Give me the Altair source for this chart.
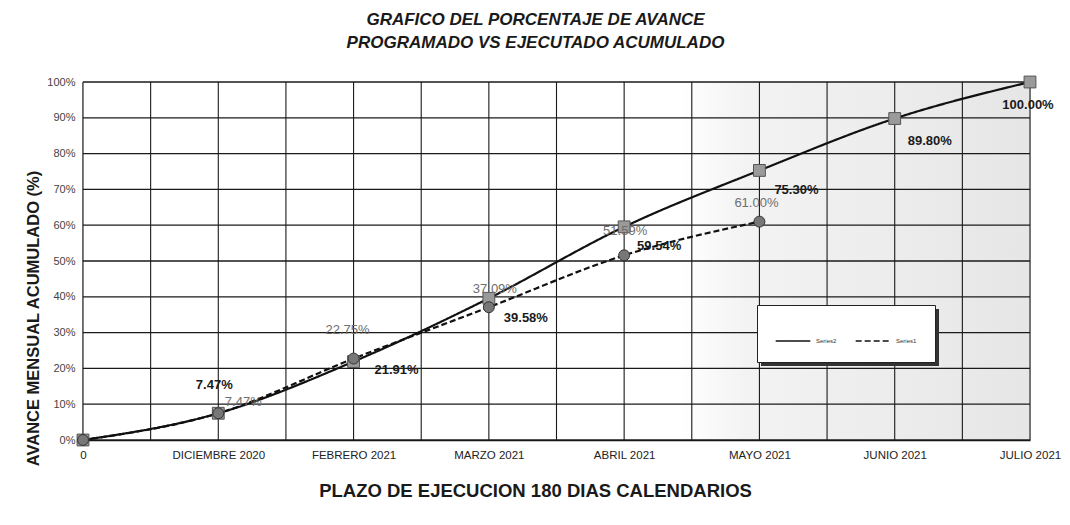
import altair as alt
import pandas as pd

# ---------------- data ----------------
months = ["0", "DICIEMBRE 2020", "FEBRERO 2021", "MARZO 2021", "ABRIL 2021",
          "MAYO 2021", "JUNIO 2021", "JULIO 2021"]
programado = [0.0, 7.47, 21.91, 39.58, 59.54, 75.30, 89.80, 100.00]   # solid, squares
ejecutado = [0.0, 7.47, 22.75, 37.09, 51.59, 61.00]                   # dashed, circles
serie_prog = "Series2"
serie_ejec = "Series1"
y_ticks = [0.0, 0.1, 0.2, 0.3, 0.4, 0.5, 0.6, 0.7, 0.8, 0.9, 1.0]
x_grid = [0, 0.5, 1, 1.5, 2, 2.5, 3, 3.5, 4, 4.5, 5, 5.5, 6, 6.5, 7]

rows = []
for i, v in enumerate(programado):
    rows.append({"idx": i, "pct": v / 100, "serie": serie_prog, "label": f"{v:.2f}%"})
for i, v in enumerate(ejecutado):
    rows.append({"idx": i, "pct": v / 100, "serie": serie_ejec, "label": f"{v:.2f}%"})
df = pd.DataFrame(rows)

# ---------------- layout / style ----------------
W, H = 947, 358
NARROW = "Liberation Sans Narrow, Arial Narrow, Liberation Sans, Arial"
ARIAL = "Liberation Sans, Arial"
GRID = "#1a1a1a"

month_js = "[" + ",".join(f"'{m}'" for m in months) + "]"

x_scale = alt.Scale(domain=[0, len(months) - 1], nice=False, zero=False)
y_scale = alt.Scale(domain=[0, 1], nice=False)

x_axis = alt.Axis(values=list(range(len(months))),
                  labelExpr=f"{month_js}[datum.value]",
                  labelOverlap=False, labelFlush=False,
                  labelFont=NARROW, labelFontSize=11.5,
                  labelColor="#222", labelPadding=9, ticks=False,
                  grid=False, domainColor="#111", domainWidth=1.5,
                  title="PLAZO DE EJECUCION 180 DIAS CALENDARIOS",
                  titleFont=ARIAL, titleFontSize=18.5, titleFontWeight="bold",
                  titleColor="#1a1a1a", titlePadding=21, titleX=452,
                  titleAnchor="start", titleAlign="center")
y_axis = alt.Axis(values=y_ticks, format=".0%",
                  labelOverlap=False, labelFlush=False,
                  labelFont=NARROW, labelFontSize=11, labelColor="#444",
                  labelPadding=8, ticks=False, grid=False,
                  domainColor="#111", domainWidth=1.5,
                  title="AVANCE MENSUAL ACUMULADO (%)",
                  titleFont=ARIAL, titleFontSize=16.5, titleFontWeight="bold",
                  titleColor="#1a1a1a", titleX=-50, titleY=236,
                  titleAlign="center", titleBaseline="middle")

def X(field):
    return alt.X(field, scale=x_scale, axis=x_axis)

def Y(field):
    return alt.Y(field, scale=y_scale, axis=y_axis)

base = alt.Chart(df)

shade = alt.Chart(pd.DataFrame({"a": [0]})).mark_rect(
    fill=alt.LinearGradient(gradient="linear", x1=0, x2=1, y1=0, y2=0,
                            stops=[alt.GradientStop(color="#ffffff", offset=0),
                                   alt.GradientStop(color="#ffffff", offset=0.63),
                                   alt.GradientStop(color="#f3f3f3", offset=0.7),
                                   alt.GradientStop(color="#e6e6e6", offset=1)])
).encode(x=alt.value(0), x2=alt.value(W), y=alt.value(0), y2=alt.value(H))

hgrid = alt.Chart(pd.DataFrame({"v": y_ticks})).mark_rule(
    color=GRID, strokeWidth=1.3).encode(y=Y("v:Q"))
vgrid = alt.Chart(pd.DataFrame({"v": x_grid})).mark_rule(
    color=GRID, strokeWidth=1.1).encode(x=X("v:Q"))

# shadow behind the legend box (decoration)
legend_shadow = alt.Chart(pd.DataFrame({"a": [0]})).mark_rect(fill="#333").encode(
    x=alt.value(678), x2=alt.value(856), y=alt.value(227), y2=alt.value(284))

legend_kw = dict(orient="none", legendX=674, legendY=223, direction="horizontal",
                 title=None, fillColor="white", strokeColor="#222", padding=18,
                 labelFontSize=6, labelFont=ARIAL, labelColor="#333",
                 symbolType="stroke", symbolSize=1200, symbolStrokeWidth=1.3,
                 columnPadding=16, labelOffset=5)

lines = base.mark_line(interpolate="monotone", strokeWidth=2.2).encode(
    x=X("idx:Q"), y=Y("pct:Q"),
    color=alt.Color("serie:N",
                    scale=alt.Scale(domain=[serie_prog, serie_ejec], range=["#111", "#111"]),
                    legend=alt.Legend(**legend_kw)),
    strokeDash=alt.StrokeDash("serie:N",
                              scale=alt.Scale(domain=[serie_prog, serie_ejec],
                                              range=[[1, 0], [6, 3]]),
                              legend=alt.Legend(**legend_kw)),
)

squares = base.transform_filter(alt.datum.serie == serie_prog).mark_square(
    size=140, fill="#9a9a9a", stroke="#555", strokeWidth=1, opacity=1
).encode(x=X("idx:Q"), y=Y("pct:Q"))

circles = base.transform_filter(alt.datum.serie == serie_ejec).mark_point(
    shape="circle", filled=True, size=120, fill="#777", stroke="#333",
    strokeWidth=1, opacity=1
).encode(x=X("idx:Q"), y=Y("pct:Q"))

# label offsets (styling) for each point label
prog_offsets = {1: (-4, -28), 2: (43, 8), 3: (37, 20), 4: (35, 19),
                5: (37, 20), 6: (35, 22), 7: (-2, 23)}
ejec_offsets = {1: (25, -11), 2: (-6, -29), 3: (6, -18), 4: (1, -24), 5: (-3, -19)}

label_layers = []
for i, (dx, dy) in prog_offsets.items():
    label_layers.append(
        base.transform_filter((alt.datum.serie == serie_prog) & (alt.datum.idx == i))
        .mark_text(dx=dx, dy=dy, font=ARIAL, fontSize=13, fontWeight="bold", color="#1a1a1a")
        .encode(x=X("idx:Q"), y=Y("pct:Q"), text="label:N"))
for i, (dx, dy) in ejec_offsets.items():
    label_layers.append(
        base.transform_filter((alt.datum.serie == serie_ejec) & (alt.datum.idx == i))
        .mark_text(dx=dx, dy=dy, font=ARIAL, fontSize=13, color="#6e6e6e")
        .encode(x=X("idx:Q"), y=Y("pct:Q"), text="label:N"))

chart = alt.layer(shade, hgrid, vgrid, legend_shadow, lines, squares, circles,
                  *label_layers).properties(
    width=W, height=H,
    autosize=alt.AutoSizeParams(type="none"),
    padding={"left": 75, "top": 74, "right": 32, "bottom": 77},
    title=alt.Title(["GRAFICO DEL PORCENTAJE DE AVANCE",
                     "PROGRAMADO VS EJECUTADO ACUMULADO"],
                    font=NARROW, fontSize=17, fontStyle="italic", fontWeight="bold",
                    color="#1a1a1a", lineHeight=23, offset=22, dx=-21, anchor="middle"),
).configure_view(stroke="#111", strokeWidth=1.5).configure(background="white")

chart.save("out.html", embed_options={"renderer": "svg", "actions": False})
